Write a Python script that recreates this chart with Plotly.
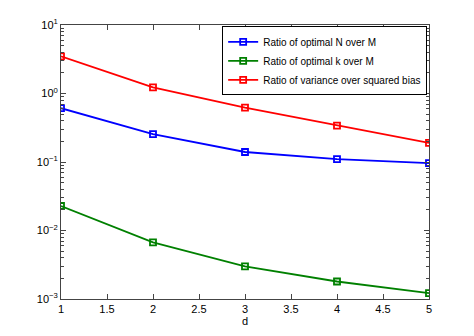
import plotly.graph_objects as go

d = [1, 2, 3, 4, 5]
ratio_N = [0.61, 0.256, 0.14, 0.11, 0.096]
ratio_k = [0.0228, 0.0067, 0.0030, 0.0018, 0.00122]
ratio_var = [3.49, 1.23, 0.62, 0.34, 0.19]
names = ["Ratio of optimal N over M", "Ratio of optimal k over M", "Ratio of variance over squared bias"]
colors = ["#0000ff", "#008000", "#ff0000"]
ytick_vals = [1e-3, 1e-2, 1e-1, 1, 10]
ytick_text = ["10<sup>−3</sup>", "10<sup>−2</sup>", "10<sup>−1</sup>", "10<sup>0</sup>", "10<sup>1</sup>"]
xtick_vals = [1, 1.5, 2, 2.5, 3, 3.5, 4, 4.5, 5]
xtick_text = ["1", "1.5", "2", "2.5", "3", "3.5", "4", "4.5", "5"]

fig = go.Figure()
for ys, nm, c in zip([ratio_N, ratio_k, ratio_var], names, colors):
    fig.add_trace(go.Scatter(
        x=d, y=ys, name=nm, mode="lines+markers",
        line=dict(color=c, width=1.8),
        marker=dict(symbol="square-open", size=6, color=c, line=dict(width=1.8, color=c)),
    ))

axis_common = dict(
    showline=True, linecolor="#444", linewidth=1, mirror="ticks",
    ticks="inside", tickcolor="#444", ticklen=5, showgrid=False, zeroline=False,
    tickfont=dict(family="Liberation Sans, Arial", size=11, color="black"),
)
fig.update_xaxes(range=[1, 5], tickvals=xtick_vals, ticktext=xtick_text,
                 title=dict(text="d", font=dict(family="Liberation Sans, Arial", size=11, color="black"), standoff=2),
                 **axis_common)
fig.update_yaxes(type="log", range=[-3, 1], tickvals=ytick_vals, ticktext=ytick_text,
                 minor=dict(ticks="inside", ticklen=3, tickcolor="#444",
                            tickvals=[m * 10 ** e for e in range(-3, 1) for m in range(2, 10)]),
                 **axis_common)

fig.update_layout(
    width=474, height=336,
    margin=dict(l=61, r=45, t=25, b=37),
    paper_bgcolor="white", plot_bgcolor="white",
    font=dict(family="Liberation Sans, Arial", size=11, color="black"),
    legend=dict(x=0.995, y=0.995, xanchor="right", yanchor="top",
                bordercolor="black", borderwidth=1, bgcolor="white",
                font=dict(size=10), tracegroupgap=0, itemwidth=30),
    showlegend=True,
)
fig.write_html("out.html")
